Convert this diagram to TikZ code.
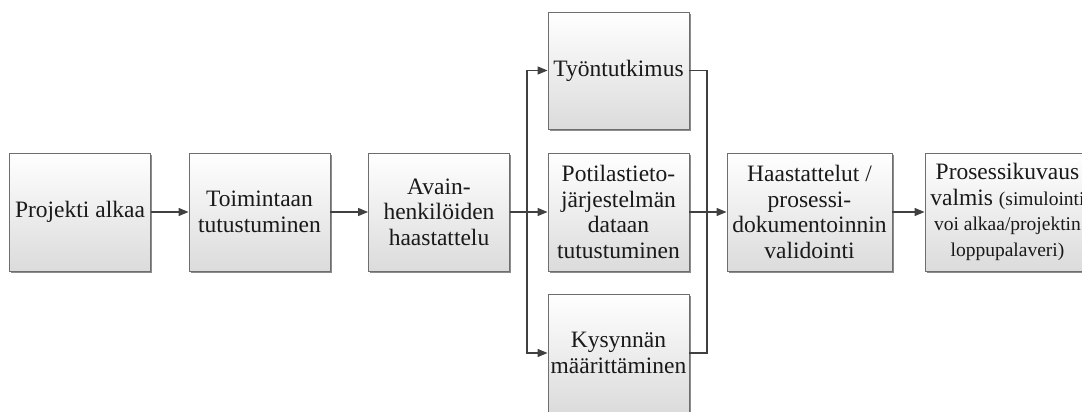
\documentclass[tikz,border=0pt]{standalone}
\usepackage{fontspec}
\setmainfont{Liberation Serif}
\usetikzlibrary{arrows.meta,shadows}
\definecolor{boxline}{HTML}{6E6E6E}
\definecolor{linkline}{HTML}{404040}
\begin{document}
\begin{tikzpicture}[x=1pt,y=-1pt,
  stepbox/.style={draw=boxline,line width=0.9pt,top color=white,bottom color=black!14,
    minimum width=141pt,minimum height=118pt,inner sep=0pt,align=center,
    font=\fontsize{23.5}{25.5}\selectfont,text=black!90,
    drop shadow={shadow xshift=1.6pt,shadow yshift=-1.6pt,fill=black!45,opacity=1}},
  widebox/.style={stepbox,minimum width=165pt},
  small/.style={font=\fontsize{19.5}{25.5}\selectfont},
  link/.style={draw=linkline,line width=1.3pt,-{Triangle[length=10pt,width=8pt]}},
  plain/.style={draw=linkline,line width=1.3pt}]
\clip (0,0) rectangle (1082,412);
\useasboundingbox (0,0) rectangle (1082,412);

\node[stepbox] (start) at (80,212) {Projekti alkaa};
\node[stepbox] (ops) at (259.5,212) {Toimintaan\\tutustuminen};
\node[stepbox] (keys) at (439,212) {Avain-\\henkilöiden\\haastattelu};
\node[stepbox,minimum height=117pt] (work) at (618.5,70.5) {Työntutkimus};
\node[stepbox] (data) at (618.5,212) {Potilastieto-\\järjestelmän\\dataan\\tutustuminen};
\node[stepbox] (demand) at (618.5,353) {Kysynnän\\määrittäminen};
\node[widebox] (valid) at (809.5,212) {Haastattelut /\\prosessi-\\dokumentoinnin\\validointi};
\node[widebox] (done) at (1007.5,212)
  {Prosessikuvaus\\valmis {\fontsize{19.5}{25.5}\selectfont(simulointi}\\
   {\fontsize{19.5}{25.5}\selectfont voi alkaa/projektin}\\
   {\fontsize{19.5}{25.5}\selectfont loppupalaveri)}};

\coordinate (split) at (527,212);
\coordinate (join) at (707,212);

\draw[link] (start) -- (ops);
\draw[link] (ops) -- (keys);
\draw[link] (keys) -- (data);
\draw[link] (split) |- (work);
\draw[link] (split) |- (demand);
\draw[plain] (work.east) -| (join);
\draw[plain] (demand.east) -| (join);
\draw[link] (data) -- (valid);
\draw[link] (valid) -- (done);
\end{tikzpicture}
\end{document}
